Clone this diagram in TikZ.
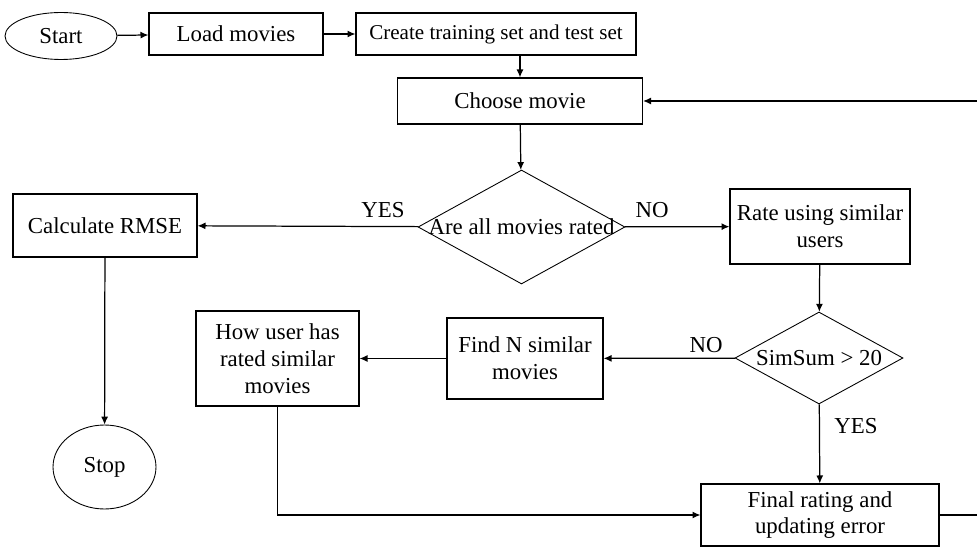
\documentclass[tikz,border=0pt]{standalone}
\usepackage{fontspec}
\setmainfont{Liberation Serif}
\usetikzlibrary{arrows.meta, shapes.geometric}

\begin{document}
\begin{tikzpicture}[
    x=0.02cm, y=-0.02cm,
    box/.style={rectangle, draw, line width=0.7pt, align=center, inner sep=1pt, font=\fontsize{13}{15.3}\selectfont},
    terminal/.style={ellipse, draw, line width=0.5pt, inner sep=0pt, font=\fontsize{13}{15.3}\selectfont},
    decision/.style={diamond, draw, line width=0.5pt, inner sep=0pt, font=\fontsize{13}{15.3}\selectfont},
    tag/.style={font=\fontsize{13}{15.3}\selectfont, inner sep=0pt},
    arr/.style={-{Latex[length=4.5pt, width=4pt]}, line width=0.7pt}
]
\useasboundingbox (0,0) rectangle (977,547);

% Top row
\node[terminal, minimum width=2.24cm, minimum height=0.94cm] (start) at (61,36) {Start};
\node[box, minimum width=3.48cm, minimum height=0.84cm] (load) at (236,34) {Load movies};
\node[box, minimum width=5.6cm, minimum height=0.84cm, font=\fontsize{12}{14}\selectfont] (create) at (496,34) {Create training set and test set};
\node[box, minimum width=4.9cm, minimum height=0.92cm] (choose) at (520,101) {Choose movie};

% Middle row
\node[decision, minimum width=4.14cm, minimum height=2.28cm] (rated) at (521.5,227) {\makebox[0pt]{Are all movies rated}};
\node[box, minimum width=3.68cm, minimum height=1.26cm] (rmse) at (105,225.5) {Calculate RMSE};
\node[box, minimum width=3.6cm, minimum height=1.5cm] (rate) at (820,226.5) {Rate using similar\\users};
\node[terminal, minimum width=2.06cm, minimum height=1.68cm] (stop) at (104.5,467) {Stop};

% Lower row
\node[decision, minimum width=3.36cm, minimum height=1.84cm] (simsum) at (819,358) {\makebox[0pt]{SimSum > 20}};
\node[box, minimum width=3.12cm, minimum height=1.62cm] (findn) at (525,358.5) {Find N similar\\movies};
\node[box, minimum width=3.26cm, minimum height=1.9cm] (howuser) at (277.5,358.5) {How user has\\rated similar\\movies};
\node[box, minimum width=4.76cm, minimum height=1.24cm] (final) at (820,515) {Final rating and\\updating error};

% Labels
\node[tag] (yes1) at (383,210) {YES};
\node[tag] (no1) at (652,210) {NO};
\node[tag] (no2) at (706,345) {NO};
\node[tag] (yes2) at (856,426) {YES};

% Loop back point
\coordinate (back) at (990,101);

% Arrows
\draw[arr] (start) -- (load);
\draw[arr] (load) -- (create);
\draw[arr] (create.south -| choose.north) -- (choose);
\draw[arr] (choose) -- (rated);
\draw[arr] (rated) -- (rmse);
\draw[arr] (rated) -- (rate);
\draw[arr] (rmse) -- (stop);
\draw[arr] (rate) -- (simsum);
\draw[arr] (simsum) -- (findn);
\draw[arr] (findn) -- (howuser);
\draw[arr] (simsum) -- (final);
\draw[arr] (howuser.south) |- (final.west);
\draw[arr] (final.east) -| (back) -- (choose.east);

\end{tikzpicture}
\end{document}
